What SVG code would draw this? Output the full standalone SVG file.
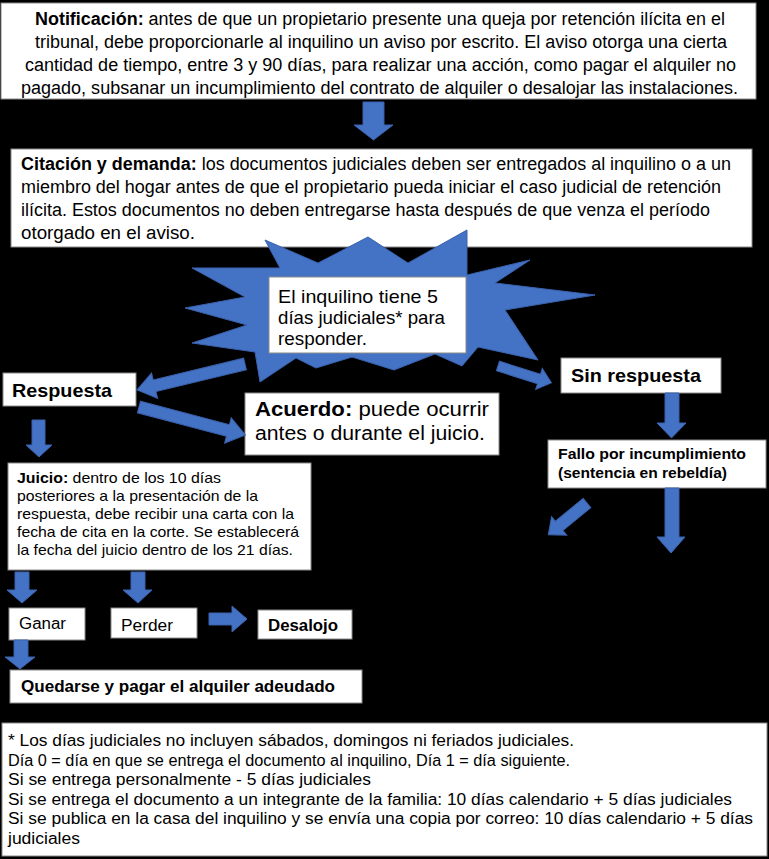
<svg xmlns="http://www.w3.org/2000/svg" width="769" height="859" viewBox="0 0 769 859">
<style>
.box{fill:#fff;stroke:#8a8a8a;stroke-width:1}
.arr{fill:#4472C4;stroke:#3a62ad;stroke-width:1}
.t{font-family:"Liberation Sans",Arial,sans-serif;fill:#000}
.b{font-weight:bold}
.f18{font-size:18px}
.f16{font-size:16px}
.f14{font-size:14.5px}
.f19{font-size:19px}
.f20{font-size:20px}
</style>
<rect x="0" y="0" width="769" height="859" fill="#000"/>

<g id="notificacion">
<rect class="box" x="1" y="3" width="755" height="96"/>
<text class="t f18" x="35" y="25" textLength="690" lengthAdjust="spacingAndGlyphs"><tspan class="b">Notificación:</tspan> antes de que un propietario presente una queja por retención ilícita en el</text>
<text class="t f18" x="35" y="48" textLength="692" lengthAdjust="spacingAndGlyphs">tribunal, debe proporcionarle al inquilino un aviso por escrito. El aviso otorga una cierta</text>
<text class="t f18" x="25" y="71" textLength="711" lengthAdjust="spacingAndGlyphs">cantidad de tiempo, entre 3 y 90 días, para realizar una acción, como pagar el alquiler no</text>
<text class="t f18" x="21" y="94" textLength="717" lengthAdjust="spacingAndGlyphs">pagado, subsanar un incumplimiento del contrato de alquiler o desalojar las instalaciones.</text>
</g>

<g id="citacion">
<rect class="box" x="11" y="149" width="741" height="98"/>
<text class="t f18" x="21" y="170" textLength="710" lengthAdjust="spacingAndGlyphs"><tspan class="b">Citación y demanda:</tspan> los documentos judiciales deben ser entregados al inquilino o a un</text>
<text class="t f18" x="21" y="193" textLength="700" lengthAdjust="spacingAndGlyphs">miembro del hogar antes de que el propietario pueda iniciar el caso judicial de retención</text>
<text class="t f18" x="21" y="216" textLength="689" lengthAdjust="spacingAndGlyphs">ilícita. Estos documentos no deben entregarse hasta después de que venza el período</text>
<text class="t f18" x="21" y="239" textLength="174" lengthAdjust="spacingAndGlyphs">otorgado en el aviso.</text>
</g>

<g id="plazo">
<polygon class="arr" points="265,240 318,263 368,237 408,263 467,230 467,275 530,260 495,283 595,295 505,310 538,360 478,347 462,366 435,354 394,370 352,357 316,368 296,358 260,382 255,352 192,343 247,325 185,308 245,297 192,268 280,268"/>
<rect class="box" x="269" y="277" width="197" height="76"/>
<text class="t f19" x="278" y="303" textLength="160" lengthAdjust="spacingAndGlyphs">El inquilino tiene 5</text>
<text class="t f19" x="278" y="324" textLength="167" lengthAdjust="spacingAndGlyphs">días judiciales* para</text>
<text class="t f19" x="278" y="345" textLength="89" lengthAdjust="spacingAndGlyphs">responder.</text>
</g>

<g id="respuesta">
<rect class="box" x="3" y="373" width="133" height="33"/>
<text class="t f19 b" x="12" y="397" textLength="100" lengthAdjust="spacingAndGlyphs">Respuesta</text>
</g>

<g id="acuerdo">
<rect class="box" x="245" y="393" width="254" height="62"/>
<text class="t f20" x="255" y="416" textLength="234" lengthAdjust="spacingAndGlyphs"><tspan class="b">Acuerdo:</tspan> puede ocurrir</text>
<text class="t f20" x="255" y="440" textLength="230" lengthAdjust="spacingAndGlyphs">antes o durante el juicio.</text>
</g>

<g id="sin-respuesta">
<rect class="box" x="561" y="358" width="160" height="35"/>
<text class="t f19 b" x="571" y="382" textLength="130" lengthAdjust="spacingAndGlyphs">Sin respuesta</text>
</g>

<g id="fallo">
<rect class="box" x="548" y="440" width="218" height="48"/>
<text class="t f14 b" x="558" y="459" textLength="188" lengthAdjust="spacingAndGlyphs">Fallo por incumplimiento</text>
<text class="t f14 b" x="558" y="478" textLength="169" lengthAdjust="spacingAndGlyphs">(sentencia en rebeldía)</text>
</g>

<g id="juicio">
<rect class="box" x="8" y="463" width="303" height="107"/>
<text class="t f14" x="17" y="483" textLength="204" lengthAdjust="spacingAndGlyphs"><tspan class="b">Juicio:</tspan> dentro de los 10 días</text>
<text class="t f14" x="17" y="501" textLength="241" lengthAdjust="spacingAndGlyphs">posteriores a la presentación de la</text>
<text class="t f14" x="17" y="519" textLength="277" lengthAdjust="spacingAndGlyphs">respuesta, debe recibir una carta con la</text>
<text class="t f14" x="17" y="537" textLength="282" lengthAdjust="spacingAndGlyphs">fecha de cita en la corte. Se establecerá</text>
<text class="t f14" x="17" y="555" textLength="276" lengthAdjust="spacingAndGlyphs">la fecha del juicio dentro de los 21 días.</text>
</g>

<g id="ganar">
<rect class="box" x="9" y="608" width="76" height="32"/>
<text class="t f16" x="19" y="629" textLength="47" lengthAdjust="spacingAndGlyphs">Ganar</text>
</g>

<g id="perder">
<rect class="box" x="111" y="608" width="86" height="30"/>
<text class="t f16" x="121" y="631" textLength="52" lengthAdjust="spacingAndGlyphs">Perder</text>
</g>

<g id="desalojo">
<rect class="box" x="258" y="610" width="94" height="29"/>
<text class="t f16 b" x="268" y="631" textLength="70" lengthAdjust="spacingAndGlyphs">Desalojo</text>
</g>

<g id="quedarse">
<rect class="box" x="10" y="670" width="352" height="33"/>
<text class="t f16 b" x="21" y="692" textLength="314" lengthAdjust="spacingAndGlyphs">Quedarse y pagar el alquiler adeudado</text>
</g>

<g id="nota">
<rect class="box" x="2" y="723" width="765" height="133"/>
<text class="t f16" x="8" y="746" textLength="566" lengthAdjust="spacingAndGlyphs">* Los días judiciales no incluyen sábados, domingos ni feriados judiciales.</text>
<text class="t f16" x="8" y="766" textLength="562" lengthAdjust="spacingAndGlyphs">Día 0 = día en que se entrega el documento al inquilino, Día 1 = día siguiente.</text>
<text class="t f16" x="8" y="785" textLength="363" lengthAdjust="spacingAndGlyphs">Si se entrega personalmente - 5 días judiciales</text>
<text class="t f16" x="8" y="805" textLength="724" lengthAdjust="spacingAndGlyphs">Si se entrega el documento a un integrante de la familia: 10 días calendario + 5 días judiciales</text>
<text class="t f16" x="8" y="824" textLength="745" lengthAdjust="spacingAndGlyphs">Si se publica en la casa del inquilino y se envía una copia por correo: 10 días calendario + 5 días</text>
<text class="t f16" x="8" y="844" textLength="72" lengthAdjust="spacingAndGlyphs">judiciales</text>
</g>

<g id="connectors">
<polygon class="arr" points="363,102 384,102 384,125 393,125 373.5,140 354,125 363,125"/>
<polygon class="arr" transform="translate(245,364) rotate(166.5)" points="0,-6 93,-6 93,-13 111,0 93,13 93,6 0,6"/>
<polygon class="arr" transform="translate(139,407) rotate(14.8)" points="0,-6 92,-6 92,-13 110,0 92,13 92,6 0,6"/>
<polygon class="arr" transform="translate(498,366) rotate(17.5)" points="0,-5 43,-5 43,-11 56,0 43,11 43,5 0,5"/>
<polygon class="arr" points="665,393 679,393 679,423 686,423 671.5,438 657,423 665,423"/>
<polygon class="arr" points="665,488 679,488 679,537 685,537 671,553 657,537 665,537"/>
<polygon class="arr" transform="translate(587,503) rotate(140.6)" points="0,-6 36,-6 36,-12 50,0 36,12 36,6 0,6"/>
<polygon class="arr" points="32,420 45,420 45,445 52,445 39,457 26,445 32,445"/>
<polygon class="arr" points="15,572 29,572 29,590 37,590 22,603 7,590 15,590"/>
<polygon class="arr" points="131,572 145,572 145,590 152,590 138,603 123,590 131,590"/>
<polygon class="arr" points="209,613 232,613 232,606 247,619 232,632 232,625 209,625"/>
<polygon class="arr" points="14,640 28,640 28,657 35,657 20,669 5,657 14,657"/>
</g>
</svg>
